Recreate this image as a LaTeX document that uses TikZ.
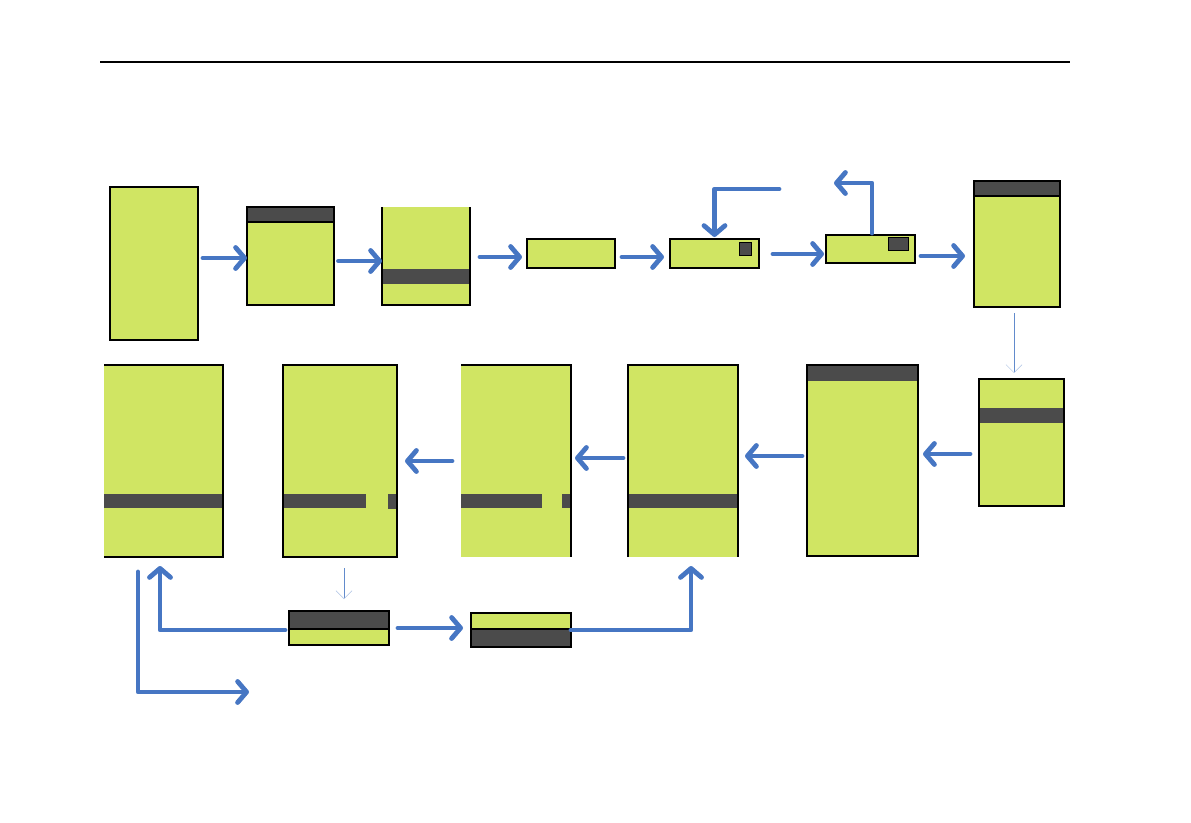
\documentclass[tikz,border=0pt]{standalone}
\usetikzlibrary{arrows.meta}
\definecolor{lcdyel}{HTML}{D0E563}
\definecolor{lcddark}{HTML}{4B4B4B}
\definecolor{arrblue}{HTML}{4676C3}
\newcommand\lcdbox[5]{\node[lcd,minimum width={#4-#2},minimum height={#5-#3}] (#1) at ({(#2+#4)/2},{(#3+#5)/2}) {};}
\begin{document}
\begin{tikzpicture}[x=1pt,y=-1pt,
  lcd/.style={fill=lcdyel,draw=none,inner sep=0pt,outer sep=0pt},
  band/.style={fill=lcddark},
  edge/.style={draw=black,line width=1.4pt},
  flow/.style={draw=arrblue,line width=4.8pt,line cap=round,line join=round,
    -{Straight Barb[length=9pt,width=21pt,round]}},
  thinarr/.style={draw=arrblue!85,line width=0.9pt,
    -{Straight Barb[length=8pt,width=16pt,line width=0.5pt,color=arrblue!45]}}]
\useasboundingbox (0,0) rectangle (1191,822);
\fill[white] (0,0) rectangle (1191,822);
% header rule
\draw[line width=1.3pt] (100,62) -- (1070,62);

% ---- boxes: top row
\lcdbox{A}{110}{187}{198}{340}
\lcdbox{B}{247}{207}{334}{305}
\lcdbox{C}{382}{207}{470}{305}
\lcdbox{D}{527}{239}{615}{268}
\lcdbox{E}{670}{239}{759}{268}
\lcdbox{F}{826}{235}{915}{263}
\lcdbox{G}{974}{181}{1060}{307}
% ---- boxes: middle row
\lcdbox{H}{979}{379}{1064}{506}
\lcdbox{I}{807}{365}{918}{556}
\lcdbox{J}{628}{365}{738}{557}
\lcdbox{K}{461}{365}{571}{557}
\lcdbox{M}{283}{365}{397}{557}
\lcdbox{L}{104}{365}{223}{557}
% ---- boxes: bottom row
\lcdbox{N}{289}{611}{389}{645}
\lcdbox{O}{471}{613}{571}{647}

% ---- dark bands
\fill[band] (247,207) rectangle (334,222);
\fill[band] (382,269) rectangle (470,284);
\fill[band] (974,181) rectangle (1060,196);
\fill[band] (979,408) rectangle (1064,423);
\fill[band] (807,365) rectangle (918,381);
\fill[band] (628,494) rectangle (738,508);
\fill[band] (461,494) rectangle (542,508);
\fill[band] (562,494) rectangle (571,508);
\fill[band] (283,494) rectangle (366,508);
\fill[band] (388,494) rectangle (397,509);
\fill[band] (104,494) rectangle (223,508);
\fill[band] (289,611) rectangle (389,629);
\fill[band] (471,629) rectangle (571,647);
\draw[band,draw=black,line width=1pt] (739,242) rectangle (751,255);
\draw[band,draw=black,line width=1pt] (888,237) rectangle (908,250);

% ---- outlines
\draw[edge,line width=1.6pt] (A.north west) rectangle (A.south east);
\draw[edge] (B.north west) rectangle (B.south east);
\draw[edge] (B.north west |- 0,222) -- (B.north east |- 0,222);
\draw[edge] (C.north west) |- (C.south east) -- (C.north east);
\draw[edge] (D.north west) rectangle (D.south east);
\draw[edge] (E.north west) rectangle (E.south east);
\draw[edge,line width=1.2pt] (F.north west) rectangle (F.south east);
\draw[edge] (G.north west) rectangle (G.south east);
\draw[edge] (G.north west |- 0,196) -- (G.north east |- 0,196);
\draw[edge] (H.north west) rectangle (H.south east);
\draw[edge] (I.north west) rectangle (I.south east);
\draw[edge] (J.south west) |- (J.north east) -- (J.south east);
\draw[edge] (K.north west) -| (K.south east);
\draw[edge] (M.north west) rectangle (M.south east);
\draw[edge] (L.north west) -| (L.south east) -- (L.south west);
\draw[edge,line width=1.6pt] (N.north west) rectangle (N.south east);
\draw[edge] (N.north west |- 0,629) -- (N.north east |- 0,629);
\draw[edge,line width=1.6pt] (O.north west) rectangle (O.south east);
\draw[edge] (O.north west |- 0,629) -- (O.north east |- 0,629);

% ---- free ends
\coordinate (fbE) at (779,189);
\coordinate (fbF) at (834,183);
\coordinate (exitL) at (249,692);

% ---- connectors
\draw[flow,shorten <=5pt] (A.east |- 0,258) -- (B.west |- 0,258);
\draw[flow,shorten <=4.5pt] (B.east |- 0,261) -- (C.west |- 0,261);
\draw[flow,shorten <=10pt,shorten >=5pt] (C.east |- 0,257) -- (D.west |- 0,257);
\draw[flow,shorten <=7pt,shorten >=6pt] (D.east |- 0,257) -- (E.west |- 0,257);
\draw[flow,shorten <=14pt,shorten >=2pt] (E.east |- 0,254) -- (F.west |- 0,254);
\draw[flow,shorten <=6pt,shorten >=9pt] (F.east |- 0,256) -- (G.west |- 0,256);
\draw[flow,shorten >=2pt] (fbE) -| (E.north);
\draw[flow,shorten <=2pt] (F.north -| 872,0) |- (fbF);
\draw[thinarr,shorten <=6pt,shorten >=6pt] (G.south -| 1014,0) -- (H.north -| 1014,0);
\draw[flow,shorten <=9pt,shorten >=5pt] (H.west |- 0,454) -- (I.east |- 0,454);
\draw[flow,shorten <=5pt,shorten >=7pt] (I.west |- 0,456) -- (J.east |- 0,456);
\draw[flow,shorten <=5pt,shorten >=4pt] (J.west |- 0,458) -- (K.east |- 0,458);
\draw[flow,shorten <=9pt,shorten >=8pt] (K.west |- 0,461) -- (M.east |- 0,461);
\draw[thinarr,shorten <=11pt,shorten >=12pt] (M.south -| 344,0) -- (N.north -| 344,0);
\draw[flow,shorten <=4pt,shorten >=9pt] (N.west |- 0,630) -| (L.south -| 160,0);
\draw[flow,shorten <=15pt] (L.south -| 138,0) |- (exitL);
\draw[flow,shorten <=9pt,shorten >=8pt] (N.east |- 0,628) -- (O.west |- 0,628);
\draw[flow,shorten >=9pt] (O.east) -| (J.south -| 691,0);
\end{tikzpicture}
\end{document}
